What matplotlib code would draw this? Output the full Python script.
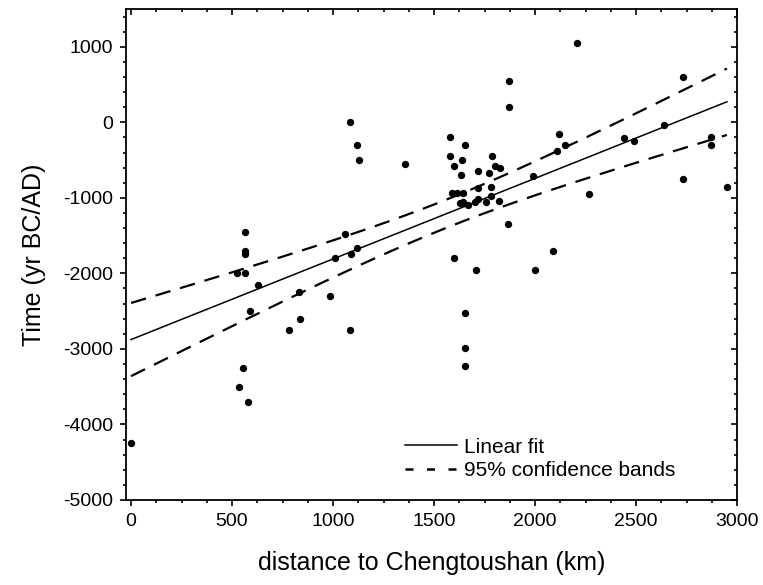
import numpy as np
import matplotlib
matplotlib.use("Agg")
import matplotlib.pyplot as plt
from matplotlib.ticker import MultipleLocator
from matplotlib.lines import TICKDOWN, TICKLEFT, Line2D

plt.rcParams['font.family'] = ['Liberation Sans', 'DejaVu Sans']
plt.rcParams['axes.unicode_minus'] = False

# distance to Chengtoushan (km) and time (yr BC/AD)
distance = [1085, 1120, 1130, 1355, 563, 563, 565, 525, 562, 630, 830, 985, 1010, 1060,
            1090, 1120, 590, 780, 835, 1085, 555, 535, 578, 0,
            2210, 1870, 1870, 2735, 2640, 2440, 2490, 2870, 2870, 2950, 2735, 2120,
            2150, 2110, 1990, 2265, 1865, 2090, 1600, 1710, 2000,
            1580, 1655, 1578, 1640, 1600, 1632, 1785, 1800, 1825, 1718, 1770,
            1590, 1615, 1642, 1718, 1780, 1780, 1630, 1645, 1670, 1703, 1720, 1756, 1822,
            1652, 1652, 1652]
time = [0, -300, -500, -550, -1450, -1700, -1750, -2000, -2000, -2150, -2250, -2300, -1800, -1480,
        -1750, -1670, -2500, -2750, -2600, -2750, -3250, -3500, -3700, -4250,
        1050, 550, 200, 600, -30, -210, -250, -200, -300, -850, -750, -150,
        -300, -380, -710, -950, -1350, -1700, -1800, -1950, -1950,
        -200, -300, -450, -500, -580, -700, -450, -580, -600, -650, -665,
        -930, -930, -930, -870, -850, -980, -1065, -1050, -1090, -1060, -1010, -1057, -1040,
        -2530, -2990, -3220]

# linear fit
fit_intercept = -2876.0
fit_slope = 1.067

x_ticks = [0, 500, 1000, 1500, 2000, 2500, 3000]
y_ticks = [-5000, -4000, -3000, -2000, -1000, 0, 1000]

x = np.array(distance, float)
y = np.array(time, float)
n = len(x)
resid = y - (fit_intercept + fit_slope * x)
s = np.sqrt(np.sum(resid ** 2) / (n - 2))
xm = x.mean()
sxx = np.sum((x - xm) ** 2)
tval = 1.994
xf = np.linspace(x.min(), x.max(), 200)
yf = fit_intercept + fit_slope * xf
hw = tval * s * np.sqrt(1.0 / n + (xf - xm) ** 2 / sxx)

fig = plt.figure(figsize=(7.63, 5.85), dpi=100)
ax = fig.add_axes([126 / 763, 1 - 500 / 585, (737 - 126) / 763, (500 - 9) / 585])

ax.scatter(x, y, s=28, color='black', zorder=3, linewidths=0)
ax.plot(xf, yf, color='black', lw=1.1)
dash = (0, (7.0, 4.5))
ax.plot(xf, yf + hw, color='black', lw=1.6, linestyle=dash)
ax.plot(xf, yf - hw, color='black', lw=1.6, linestyle=dash)

ax.set_xlim(-25, 3000)
ax.set_ylim(-5000, 1500)
ax.set_xticks(x_ticks)
ax.set_yticks(y_ticks)
ax.xaxis.set_minor_locator(MultipleLocator(125))
ax.yaxis.set_minor_locator(MultipleLocator(200))
ax.tick_params(which='both', direction='out', top=True, right=True, width=1.2,
               labelsize=14, pad=5)
ax.tick_params(which='major', length=4.5)
ax.tick_params(which='minor', length=2.5)
for sp in ax.spines.values():
    sp.set_linewidth(1.3)
for t in ax.xaxis.get_major_ticks() + ax.xaxis.get_minor_ticks():
    t.tick2line.set_marker(TICKDOWN)
for t in ax.yaxis.get_major_ticks() + ax.yaxis.get_minor_ticks():
    t.tick2line.set_marker(TICKLEFT)

ax.set_xlabel('distance to Chengtoushan (km)', fontsize=18, labelpad=15)
ax.set_ylabel('Time (yr BC/AD)', fontsize=18, labelpad=12)

handles = [Line2D([], [], color='black', lw=1.1),
           Line2D([], [], color='black', lw=1.8, linestyle=(0, (3.2, 5.4)))]
ax.legend(handles, ['Linear fit', '95% confidence bands'],
          loc='lower left', bbox_to_anchor=(0.457, 0.04), frameon=False, fontsize=15,
          handlelength=2.5, handletextpad=0.3, labelspacing=0.22, borderaxespad=0,
          borderpad=0)

fig.savefig('out.png', dpi=100)
